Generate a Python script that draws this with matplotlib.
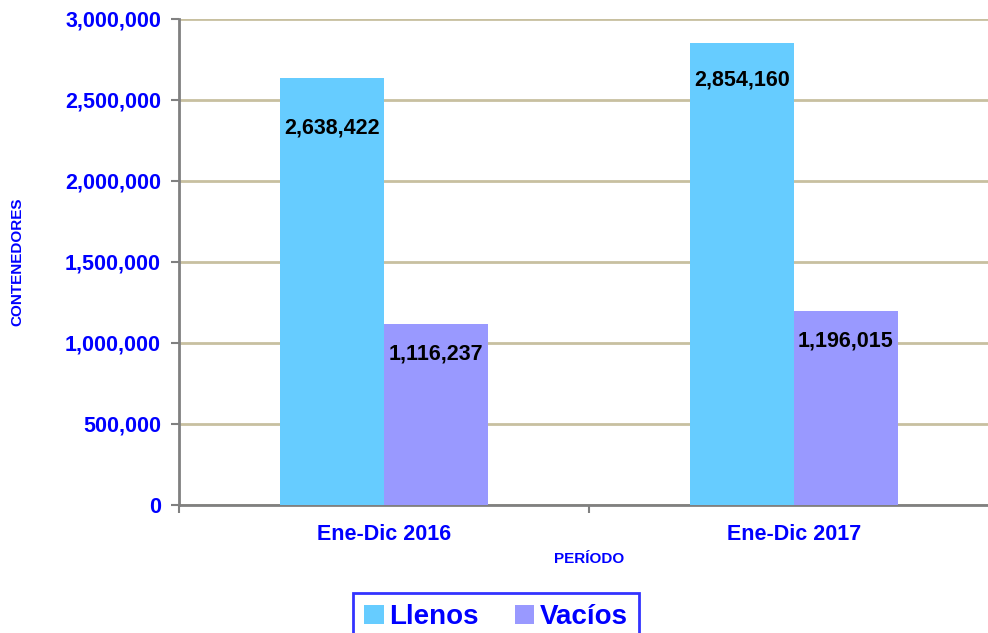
import matplotlib
matplotlib.use("Agg")
import matplotlib.pyplot as plt
from matplotlib.ticker import FuncFormatter, FixedLocator
from matplotlib.patches import Patch
import numpy as np

categories = ["Ene-Dic 2016", "Ene-Dic 2017"]
llenos = [2638422, 2854160]
vacios = [1116237, 1196015]
series_names = ["Llenos", "Vacíos"]
colors = ["#66CCFF", "#9999FF"]
label_offsets = [[-50, -37], [-30, -30]]  # px below bar top for data labels

plt.rcParams['font.family'] = ['Liberation Sans', 'DejaVu Sans']
blue = "#0000FF"

W, H = 988, 633
fig = plt.figure(figsize=(W / 100, H / 100), dpi=100)
ax_l, ax_r, ax_t, ax_b = 179, 999, 19, 505
ax = fig.add_axes([ax_l / W, 1 - ax_b / H, (ax_r - ax_l) / W, (ax_b - ax_t) / H])

x = np.arange(len(categories))
bw = 0.2525
for i, (vals, col) in enumerate(zip([llenos, vacios], colors)):
    pos = x + (i - 0.5) * bw
    bars = ax.bar(pos, vals, width=bw, color=col, zorder=3)
    for j, (b, v) in enumerate(zip(bars, vals)):
        ax.annotate(f"{v:,}", xy=(b.get_x() + b.get_width() / 2, v),
                    xytext=(0, label_offsets[i][j] * 0.72), textcoords="offset points",
                    ha="center", va="center", fontsize=15.5, fontweight="bold",
                    color="black", zorder=4)

ax.set_xlim(-0.5, 1.5)
ax.set_ylim(0, 3000000)
ax.set_yticks(np.arange(0, 3000001, 500000))
ax.yaxis.set_major_formatter(FuncFormatter(lambda v, p: f"{int(v):,}"))
ax.grid(axis="y", color="#C8C0A0", linewidth=2.0, zorder=0)
ax.xaxis.set_major_locator(FixedLocator([-0.5, 0.5, 1.5]))
ax.set_xticklabels([])
ax.set_xticks(x, minor=True)
ax.set_xticklabels(categories, minor=True)
ax.tick_params(axis="x", which="minor", length=0, pad=14)
ax.tick_params(axis="x", which="major", length=6, color="#808080", width=1.5)
ax.tick_params(axis="y", length=6, color="#808080", width=1.5, pad=7)
for lab in ax.get_yticklabels() + ax.get_xticklabels(minor=True):
    lab.set_fontsize(15.5)
    lab.set_fontweight("bold")
    lab.set_color(blue)

for s in ["top", "right"]:
    ax.spines[s].set_visible(False)
for s in ["left", "bottom"]:
    ax.spines[s].set_color("#808080")
    ax.spines[s].set_linewidth(2)

fig.text(589 / W, 1 - 559 / H, "PERÍODO", ha="center", va="center",
         fontsize=11, fontweight="bold", color=blue)
fig.text(17 / W, 1 - 262 / H, "CONTENEDORES", ha="center", va="center",
         rotation=90, fontsize=11, fontweight="bold", color=blue)

handles = [Patch(facecolor=c, edgecolor="none") for c in colors]
leg = fig.legend(handles, series_names, loc="upper center",
                 bbox_to_anchor=(496 / W, 1 - 579 / H), ncol=2, frameon=True,
                 prop={"size": 20, "weight": "bold"}, handlelength=0.7,
                 handleheight=0.7, handletextpad=0.2, columnspacing=1.3,
                 borderpad=0.4, fancybox=False)
for t in leg.get_texts():
    t.set_color(blue)
leg.get_frame().set_edgecolor(blue)
leg.get_frame().set_linewidth(2)

fig.savefig("out.png", dpi=100)
